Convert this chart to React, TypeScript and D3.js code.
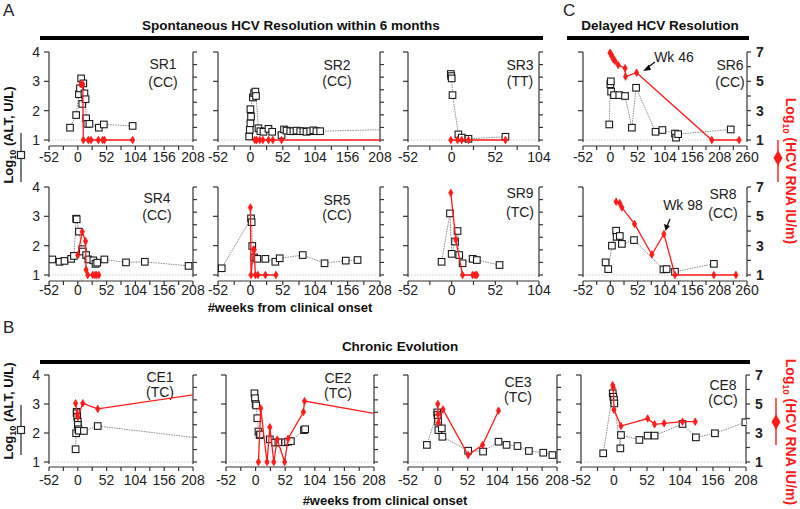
import React from 'react';
import * as d3 from 'd3';

type Pt = [number, number];

// ---------- data: [weeks from clinical onset, log10 value] ----------
const SR1_ALT: Pt[] = [[-14,1.42],[-3,1.85],[2,2.56],[4,2.76],[6,3.1],[8,2.23],[10,2.93],[12,2.59],[14,2.39],[15,1.74],[17,1.55],[21,1.55],[38,1.42],[47,1.53],[99,1.48]];
const SR1_RNA: Pt[] = [[6,4.8],[9,4.8],[10,1],[19,1],[24,1],[37,1],[45,1],[48,1],[99,1]];
const SR2_ALT: Pt[] = [[-2,1.12],[-1,1.35],[0,1.57],[1,1.8],[0,2.05],[4,2.45],[6,2.6],[8,2.65],[9,2.5],[13,1.4],[16,1.3],[21,1.28],[29,1.38],[35,1.28],[50,1.17],[54,1.36],[58,1.32],[64,1.3],[69,1.3],[74,1.32],[80,1.3],[85,1.3],[90,1.28],[96,1.3],[101,1.33],[106,1.3],[112,1.3],[300,1.4]];
const SR2_RNA: Pt[] = [[7,1],[10,1],[15,1],[20,1],[29,1],[36,1],[50,1],[300,1]];
const SR3_ALT: Pt[] = [[-1,3.25],[-0.5,3.18],[0,3.1],[1,2.53],[8,1.19],[12,1.08],[20,1.04],[64,1.11]];
const SR3_RNA: Pt[] = [[-1,1],[7,1],[12,1],[20,1],[64,1]];
const SR6_ALT: Pt[] = [[-2,1.53],[0,2.9],[1,3.0],[1.5,2.65],[7,2.53],[17,2.53],[28,2.5],[41,1.42],[49,2.78],[86,1.28],[99,1.34],[123,1.22],[125,1.08],[129,1.2],[229,1.36]];
const SR6_RNA: Pt[] = [[-0.6,6.95],[1.3,6.84],[3.8,6.68],[5.7,6.5],[8.9,6.39],[15,6.11],[28,5.89],[29,5.32],[50,5.59],[193,1],[245,1]];
const SR4_ALT: Pt[] = [[-46,1.53],[-33,1.45],[-24,1.48],[-12,1.55],[-7,1.65],[-3,2.92],[-2,2.9],[2,2.48],[8,1.88],[9,1.8],[15,1.68],[19,1.53],[28,1.5],[32,1.38],[35,1.42],[48,1.53],[87,1.43],[121,1.45],[200,1.31]];
const SR4_RNA: Pt[] = [[0,2.35],[8,3.95],[14,3.3],[15,1.35],[18,1],[27,1],[31,1],[34,1],[38,1]];
const SR5_ALT: Pt[] = [[-46,1.23],[1,2.93],[2,2.8],[3,1.99],[6,1.6],[11,1.55],[24,1.55],[40,1.45],[47,1.57],[84,1.68],[119,1.4],[153,1.49],[172,1.51]];
const SR5_RNA: Pt[] = [[0,5.6],[1,1],[5,2.75],[6,2.7],[8,1],[12,1],[24,1],[41,1]];
const SR9_ALT: Pt[] = [[-12,1.45],[-2,3.1],[0,1.72],[4,2.14],[7,2.5],[9,1.68],[13,1.4],[25,1.55],[30,1.51],[57,1.34]];
const SR9_RNA: Pt[] = [[-1,6.6],[5,3.4],[13,1],[25,1],[28,1],[30,1]];
const SR8_ALT: Pt[] = [[-9,1.43],[-4,1.2],[3,2.0],[11,2.51],[12,2.3],[18,2.33],[22,2.06],[45,2.19],[101,1.19],[107,1.2],[123,1.11],[197,1.38]];
const SR8_RNA: Pt[] = [[11,6.0],[18,5.9],[22,5.6],[46,4.48],[79,2.4],[102,3.8],[123,1],[197,1],[239,1]];
const CE1_ALT: Pt[] = [[-4,1.44],[-3,1.99],[-2,2.73],[-2,2.68],[-1,2.56],[0,2.39],[0,2.28],[1,2.13],[2,2.08],[11,2.07],[36,2.24],[260,1.73]];
const CE1_RNA: Pt[] = [[-4,5.05],[-1,4.3],[0,4.1],[9,5.05],[36,4.66],[260,5.92]];
const CE2_ALT: Pt[] = [[-2,3.37],[-1,3.2],[0,3.0],[1,2.95],[3,2.51],[5,2.05],[7,1.93],[8,1.95],[25,1.78],[34,1.67],[40,1.68],[52,1.68],[57,1.7],[62,1.72],[85,2.1],[87,2.13]];
const CE2_RNA: Pt[] = [[5,1],[9,4.7],[20,1],[25,3.4],[32,1],[38,2.55],[51,1],[57,2.6],[84,4.45],[86,5.2],[260,4.0]];
const CE3_ALT: Pt[] = [[-19,1.59],[-1,2.71],[-0.5,2.62],[0,2.51],[0.5,2.39],[1,2.1],[7,2.16],[8,1.87],[53,1.39],[79,1.36],[106,1.7],[120,1.59],[139,1.55],[159,1.38],[184,1.32],[200,1.24]];
const CE3_RNA: Pt[] = [[0,5.0],[0.5,4.3],[1,3.7],[9,4.63],[53,1.48],[78,2.17],[106,4.54]];
const CE8_ALT: Pt[] = [[-17,1.3],[-2,3.37],[-1,3.25],[0,3.14],[0.5,3.02],[10,1.47],[11,1.93],[40,1.76],[53,1.91],[64,1.91],[108,2.31],[129,1.85],[159,1.99],[207,2.37]];
const CE8_RNA: Pt[] = [[-2,6.3],[-1,6.1],[0,4.6],[11,3.48],[53,4.0],[64,3.6],[79,3.67],[108,3.78],[128,3.78]];

const TICKS_208 = [-52, 0, 52, 104, 156, 208];
const TICKS_104 = [-52, 0, 52, 104];
const TICKS_260 = [-52, 0, 52, 104, 156, 208, 260];
const ALT_TICKS = [1, 2, 3, 4];
const RNA_TICK_LABELS = [1, 3, 5, 7];

// ---------- layout ----------
const FONT = '"Liberation Sans", Arial, Helvetica, sans-serif';
const RED = '#ff1a1a';
const ROWS = [
  { top: 52, bottom: 140, axisY: 146, labelY: 162 },
  { top: 187, bottom: 275, axisY: 281, labelY: 295 },
  { top: 375, bottom: 462, axisY: 467, labelY: 485 },
];

interface PanelDef {
  name: string; geno: string; alt: Pt[]; rna: Pt[]; ticks: number[];
  row: number; x0: number; x1: number; leftLabels?: boolean; rightLabels?: boolean;
  lx: number; ly1: number; ly2: number;
}

const PANELS: PanelDef[] = [
  { name: 'SR1', geno: '(CC)', alt: SR1_ALT, rna: SR1_RNA, ticks: TICKS_208, row: 0, x0: 49, x1: 193, leftLabels: true, lx: 163, ly1: 64, ly2: 82 },
  { name: 'SR2', geno: '(CC)', alt: SR2_ALT, rna: SR2_RNA, ticks: TICKS_208, row: 0, x0: 218, x1: 380, lx: 337, ly1: 65, ly2: 81 },
  { name: 'SR3', geno: '(TT)', alt: SR3_ALT, rna: SR3_RNA, ticks: TICKS_104, row: 0, x0: 408, x1: 539, lx: 520, ly1: 65, ly2: 81 },
  { name: 'SR6', geno: '(CC)', alt: SR6_ALT, rna: SR6_RNA, ticks: TICKS_260, row: 0, x0: 583, x1: 747, rightLabels: true, lx: 730, ly1: 65, ly2: 82 },
  { name: 'SR4', geno: '(CC)', alt: SR4_ALT, rna: SR4_RNA, ticks: TICKS_208, row: 1, x0: 49, x1: 193, leftLabels: true, lx: 157, ly1: 198, ly2: 215 },
  { name: 'SR5', geno: '(CC)', alt: SR5_ALT, rna: SR5_RNA, ticks: TICKS_208, row: 1, x0: 218, x1: 380, lx: 337, ly1: 200, ly2: 215 },
  { name: 'SR9', geno: '(TC)', alt: SR9_ALT, rna: SR9_RNA, ticks: TICKS_104, row: 1, x0: 408, x1: 539, lx: 520, ly1: 193, ly2: 212 },
  { name: 'SR8', geno: '(CC)', alt: SR8_ALT, rna: SR8_RNA, ticks: TICKS_260, row: 1, x0: 583, x1: 747, rightLabels: true, lx: 723, ly1: 194, ly2: 213 },
  { name: 'CE1', geno: '(TC)', alt: CE1_ALT, rna: CE1_RNA, ticks: TICKS_208, row: 2, x0: 49, x1: 193, leftLabels: true, lx: 160, ly1: 377, ly2: 392 },
  { name: 'CE2', geno: '(TC)', alt: CE2_ALT, rna: CE2_RNA, ticks: TICKS_208, row: 2, x0: 226, x1: 374, lx: 338, ly1: 378, ly2: 393 },
  { name: 'CE3', geno: '(TC)', alt: CE3_ALT, rna: CE3_RNA, ticks: TICKS_208, row: 2, x0: 408, x1: 557, lx: 518, ly1: 382, ly2: 397 },
  { name: 'CE8', geno: '(CC)', alt: CE8_ALT, rna: CE8_RNA, ticks: TICKS_208, row: 2, x0: 581, x1: 746, rightLabels: true, lx: 723, ly1: 385, ly2: 400 },
];

const AXIS = '#333';

function Panel({ p }: { p: PanelDef }) {
  const row = ROWS[p.row];
  const dom: [number, number] = [p.ticks[0], p.ticks[p.ticks.length - 1]];
  const x = d3.scaleLinear().domain(dom).range([p.x0, p.x1]);
  const yL = d3.scaleLinear().domain([1, 4]).range([row.bottom, row.top]);
  const yR = d3.scaleLinear().domain([1, 7]).range([row.bottom, row.top]);
  const lineL = d3.line<Pt>().x(d => x(d[0])).y(d => yL(d[1]));
  const lineR = d3.line<Pt>().x(d => x(d[0])).y(d => yR(d[1]));
  const inDom = (d: Pt) => d[0] >= dom[0] && d[0] <= dom[1];
  const clipId = `clip-${p.name}`;
  const xMinor = d3.range(dom[0], dom[1] + 0.01, 26);
  const rTicks = p.rightLabels ? [1, 2, 3, 4, 5, 6, 7] : d3.range(8).map(i => 1 + (i * 6) / 7);
  const diamond = d3.symbol().type(d3.symbolDiamond).size(16)() as string;
  return (
    <g>
      <defs>
        <clipPath id={clipId}>
          <rect x={p.x0} y={row.top - 12} width={p.x1 - p.x0} height={row.bottom - row.top + 18} />
        </clipPath>
      </defs>
      <line x1={p.x0} x2={p.x1} y1={yL(1)} y2={yL(1)} stroke="#c8c8c8" strokeWidth={1} strokeDasharray="1.5,1.5" />
      <line x1={p.x0} x2={p.x0} y1={row.top} y2={row.bottom + 2} stroke={AXIS} strokeWidth={1.2} />
      {ALT_TICKS.map(t => (
        <g key={'lt' + t}>
          <line x1={p.x0 - 5} x2={p.x0} y1={yL(t)} y2={yL(t)} stroke={AXIS} strokeWidth={1.2} />
          {p.leftLabels && (
            <text x={p.x0 - 9} y={yL(t) + 5} textAnchor="end" fontSize={14} fill="#222">{t}</text>
          )}
        </g>
      ))}
      <line x1={p.x1} x2={p.x1} y1={row.top} y2={row.bottom + 2} stroke={AXIS} strokeWidth={1.2} />
      {rTicks.map((t, i) => (
        <line key={'rt' + i} x1={p.x1} x2={p.x1 + 4} y1={yR(t)} y2={yR(t)} stroke={AXIS} strokeWidth={1.2} />
      ))}
      {p.rightLabels && RNA_TICK_LABELS.map(t => (
        <text key={'rl' + t} x={p.x1 + 9} y={yR(t) + 5} fontSize={14} fontWeight="bold" fill="#222">{t}</text>
      ))}
      <line x1={p.x0} x2={p.x1} y1={row.axisY} y2={row.axisY} stroke={AXIS} strokeWidth={1.2} />
      {xMinor.map(t => (
        <line key={'xt' + t} x1={x(t)} x2={x(t)} y1={row.axisY} y2={row.axisY + 4} stroke={AXIS} strokeWidth={1.2} />
      ))}
      {p.ticks.map(t => (
        <text key={'xl' + t} x={x(t)} y={row.labelY} textAnchor="middle" fontSize={14} fill="#222">{t}</text>
      ))}
      <text x={p.lx} y={p.ly1 + 5} textAnchor="middle" fontSize={14} fill="#222">{p.name}</text>
      <text x={p.lx} y={p.ly2 + 5} textAnchor="middle" fontSize={14} fill="#222">{p.geno}</text>
      <g clipPath={`url(#${clipId})`}>
        <path d={lineL(p.alt) || ''} fill="none" stroke="#8a8a8a" strokeWidth={1} strokeDasharray="1.5,1" />
        {p.alt.filter(inDom).map((d, i) => (
          <rect key={'sq' + i} x={x(d[0]) - 3.3} y={yL(d[1]) - 3.3} width={6.6} height={6.6} fill="#fff" stroke="#1a1a1a" strokeWidth={1.1} />
        ))}
        <path d={lineR(p.rna) || ''} fill="none" stroke={RED} strokeWidth={1.3} />
        {p.rna.filter(inDom).map((d, i) => (
          <path key={'dm' + i} d={diamond} transform={`translate(${x(d[0])},${yR(d[1])})`} fill={RED} stroke={RED} strokeWidth={0.8} />
        ))}
      </g>
    </g>
  );
}

function YLabelLeft({ cx, cy }: { cx: number; cy: number }) {
  return (
    <text transform={`translate(${cx},${cy}) rotate(-90)`} textAnchor="middle" fontSize={13} fontWeight="bold" fill="#111">
      <tspan>Log</tspan><tspan fontSize={9} dy={3}>10</tspan><tspan dy={-3}> (ALT, U/L)</tspan>
    </text>
  );
}
function YLabelRight({ cx, cy }: { cx: number; cy: number }) {
  return (
    <text transform={`translate(${cx},${cy}) rotate(90)`} textAnchor="middle" fontSize={14} fontWeight="bold" fill={RED}>
      <tspan>Log</tspan><tspan fontSize={9} dy={3}>10</tspan><tspan dy={-3}> (HCV RNA  IU/m)</tspan>
    </text>
  );
}

export default function App() {
  const diamondBig = d3.symbol().type(d3.symbolDiamond).size(70)() as string;
  return (
    <svg width={800} height={509} style={{ position: 'absolute', left: 0, top: 0, background: '#fff' }} fontFamily={FONT}>
      <rect width={800} height={509} fill="#fff" />
      <text x={3} y={16} fontSize={17} fill="#222">A</text>
      <text x={291} y={30} textAnchor="middle" fontSize={13.5} fontWeight="bold" fill="#111">Spontaneous HCV Resolution within 6 months</text>
      <line x1={40} x2={543} y1={38} y2={38} stroke="#000" strokeWidth={4} />
      <text x={563} y={16} fontSize={17} fill="#222">C</text>
      <text x={660} y={30} textAnchor="middle" fontSize={13.5} fontWeight="bold" fill="#111">Delayed HCV Resolution</text>
      <line x1={567} x2={749} y1={38} y2={38} stroke="#000" strokeWidth={4} />
      <text x={290} y={312} textAnchor="middle" fontSize={13} fontWeight="bold" fill="#111">#weeks from clinical onset</text>
      <text x={3} y={333} fontSize={17} fill="#222">B</text>
      <text x={400} y={351} textAnchor="middle" fontSize={13.5} fontWeight="bold" fill="#111">Chronic Evolution</text>
      <line x1={40} x2={750} y1={362} y2={362} stroke="#000" strokeWidth={4} />
      <text x={385} y={505} textAnchor="middle" fontSize={13} fontWeight="bold" fill="#111">#weeks from clinical onset</text>

      <YLabelLeft cx={13} cy={135} />
      <line x1={21} x2={21} y1={133} y2={182} stroke="#222" strokeWidth={1.2} />
      <rect x={17.5} y={151.5} width={7} height={7} fill="#fff" stroke="#222" strokeWidth={1.2} />
      <YLabelLeft cx={13} cy={411} />
      <line x1={21} x2={21} y1={405} y2={455} stroke="#222" strokeWidth={1.2} />
      <rect x={17.5} y={426.5} width={7} height={7} fill="#fff" stroke="#222" strokeWidth={1.2} />

      <YLabelRight cx={786} cy={171} />
      <line x1={778} x2={778} y1={140} y2={182} stroke={RED} strokeWidth={1.4} />
      <path d={diamondBig} transform="translate(778,158)" fill={RED} />
      <YLabelRight cx={786} cy={432} />
      <line x1={776} x2={776} y1={398} y2={445} stroke={RED} strokeWidth={1.4} />
      <path d={diamondBig} transform="translate(776,422)" fill={RED} />

      {PANELS.map(p => <Panel key={p.name} p={p} />)}

      <text x={674} y={62} textAnchor="middle" fontSize={14} fill="#222">Wk 46</text>
      <line x1={655} y1={62} x2={647} y2={68} stroke="#111" strokeWidth={1.3} />
      <path d="M643,71 L649,64.5 L651,70 Z" fill="#111" />
      <text x={683} y={210} textAnchor="middle" fontSize={14} fill="#222">Wk 98</text>
      <line x1={670} y1={219} x2={667} y2={226} stroke="#111" strokeWidth={1.3} />
      <path d="M665.5,231 L664,224 L670,226 Z" fill="#111" />
    </svg>
  );
}
